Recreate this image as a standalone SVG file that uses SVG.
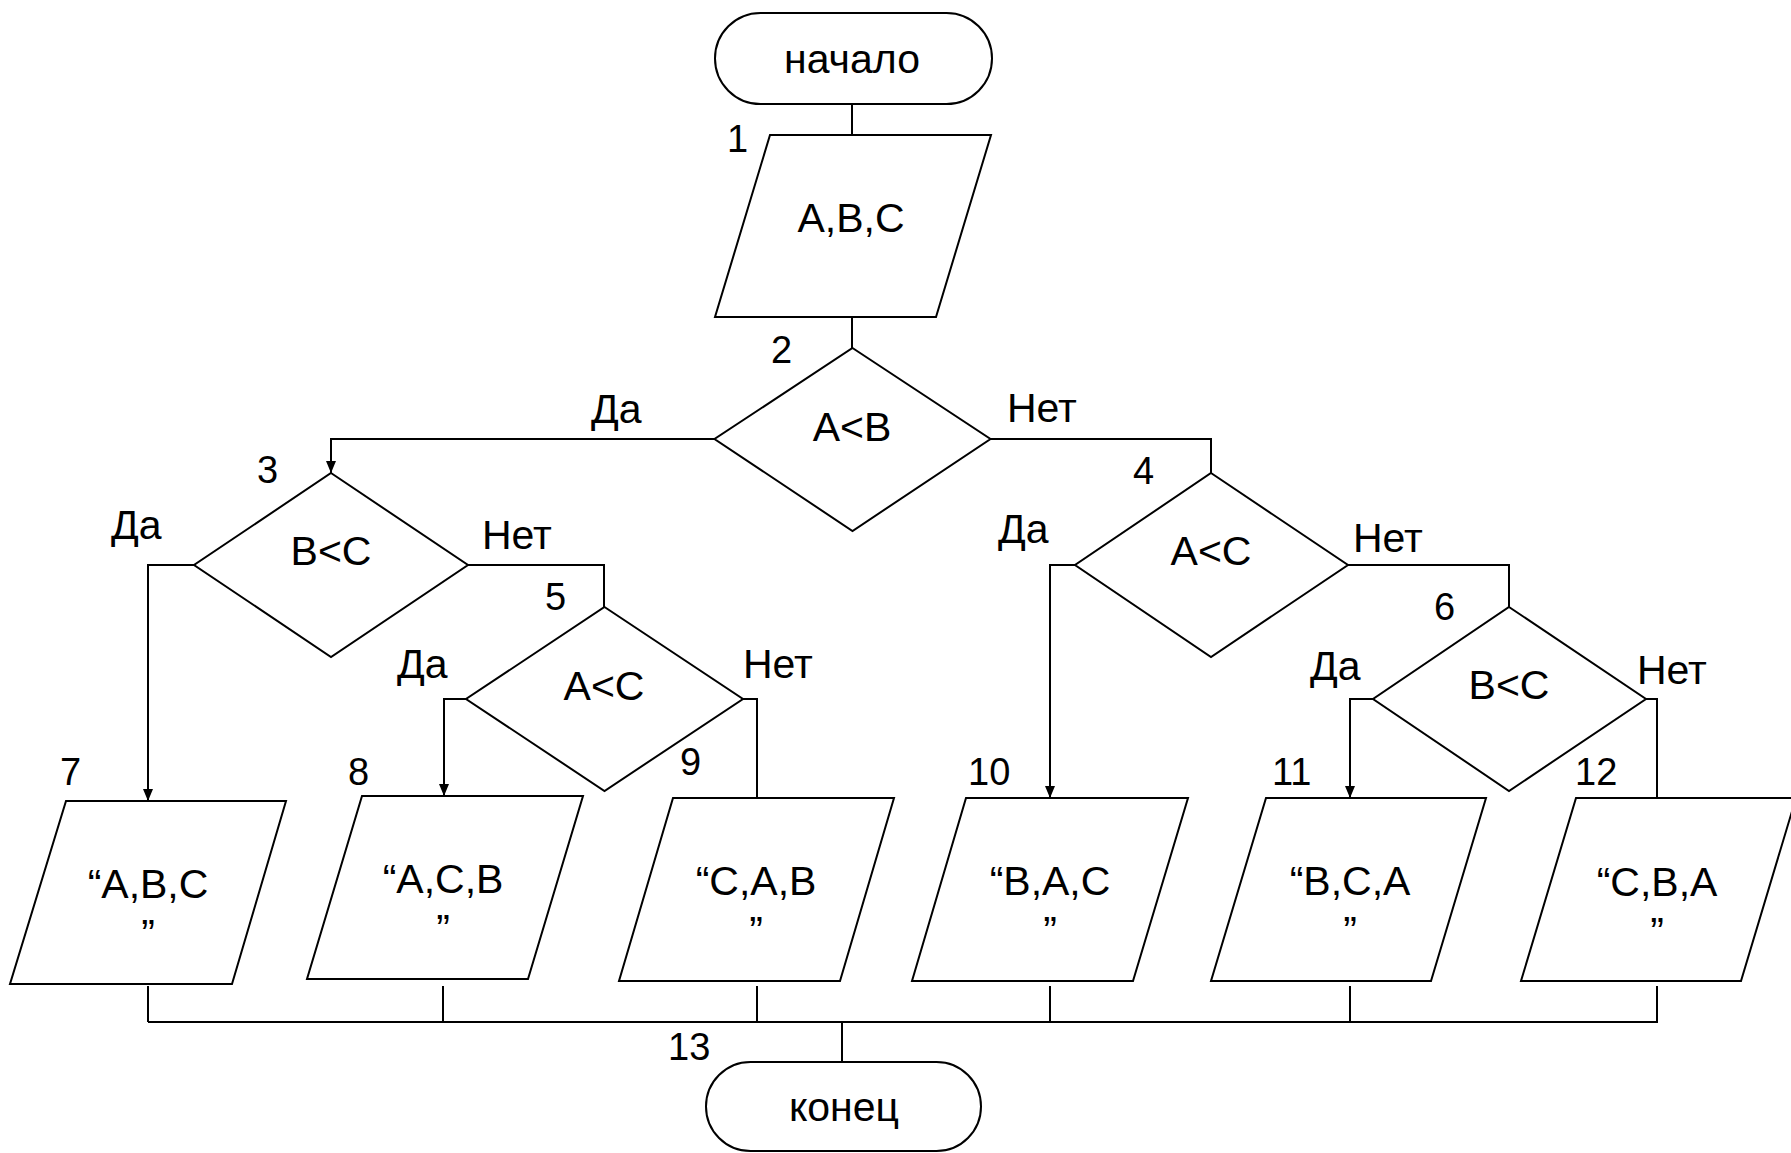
<svg xmlns="http://www.w3.org/2000/svg" width="1791" height="1153" viewBox="0 0 1791 1153">
  <defs>
    <marker id="arrow" viewBox="0 0 12 10" refX="12" refY="5" markerWidth="12" markerHeight="10" markerUnits="userSpaceOnUse" orient="auto">
      <path d="M0,0 L12,5 L0,10 Z" fill="#000"/>
    </marker>
    <style>
      .shape { fill: #fff; stroke: #000; stroke-width: 2; }
      .line { fill: none; stroke: #000; stroke-width: 2; }
      .txt { font-family: "Liberation Sans", Arial, sans-serif; font-size: 41px; fill: #000; }
      .mid { text-anchor: middle; }
      .num { font-family: "Liberation Sans", Arial, sans-serif; font-size: 38px; fill: #000; }
      .lbl { font-family: "Liberation Sans", Arial, sans-serif; font-size: 41px; fill: #000; }
    </style>
  </defs>
  <rect width="1791" height="1153" fill="#fff"/>

  <!-- connectors -->
  <g id="connectors">
    <path class="line" d="M852,104 V135"/>
    <path class="line" d="M852,317 V348"/>
    <!-- A<B : yes / no -->
    <path class="line" d="M715,439 H331 V473" marker-end="url(#arrow)"/>
    <path class="line" d="M990,439 H1211 V473"/>
    <!-- B<C : yes / no -->
    <path class="line" d="M194,565 H148 V801" marker-end="url(#arrow)"/>
    <path class="line" d="M468,565 H604 V607"/>
    <!-- A<C (left) : yes / no -->
    <path class="line" d="M466,699 H444 V796" marker-end="url(#arrow)"/>
    <path class="line" d="M743,699 H757 V798"/>
    <!-- A<C (right) : yes / no -->
    <path class="line" d="M1075,565 H1050 V798" marker-end="url(#arrow)"/>
    <path class="line" d="M1348,565 H1509 V607"/>
    <!-- B<C (right) : yes / no -->
    <path class="line" d="M1373,699 H1350 V798" marker-end="url(#arrow)"/>
    <path class="line" d="M1646,699 H1657 V798"/>
    <!-- outputs to the end -->
    <path class="line" d="M148,986 V1022 M443,986 V1022 M757,986 V1022 M1050,986 V1022 M1350,986 V1022 M1657,986 V1022"/>
    <path class="line" d="M148,1022 H1658"/>
    <path class="line" d="M842,1022 V1062"/>
  </g>

  <!-- start -->
  <g id="start">
    <rect class="shape" x="715" y="13" width="277" height="91" rx="45.5" ry="45.5"/>
    <text class="txt mid" x="852" y="73">начало</text>
  </g>

  <!-- 1: input -->
  <g id="n1">
    <polygon class="shape" points="770,135 991,135 936,317 715,317"/>
    <text class="txt mid" x="851" y="232">A,B,C</text>
    <text class="num" x="727" y="152">1</text>
  </g>

  <!-- 2: A<B -->
  <g id="n2">
    <polygon class="shape" points="852.5,348 990.5,439 852.5,531 714.5,439"/>
    <text class="txt mid" x="852" y="441">A&lt;B</text>
    <text class="num" x="771" y="363">2</text>
    <text class="lbl" x="591" y="423">Да</text>
    <text class="lbl" x="1007" y="422">Нет</text>
  </g>

  <!-- 3: B<C -->
  <g id="n3">
    <polygon class="shape" points="331,473 468,565 331,657 194,565"/>
    <text class="txt mid" x="331" y="565">B&lt;C</text>
    <text class="num" x="257" y="483">3</text>
    <text class="lbl" x="111" y="539">Да</text>
    <text class="lbl" x="482" y="549">Нет</text>
  </g>

  <!-- 4: A<C -->
  <g id="n4">
    <polygon class="shape" points="1211,473 1348,565 1211,657 1075,565"/>
    <text class="txt mid" x="1211" y="565">A&lt;C</text>
    <text class="num" x="1133" y="484">4</text>
    <text class="lbl" x="998" y="543">Да</text>
    <text class="lbl" x="1353" y="552">Нет</text>
  </g>

  <!-- 5: A<C -->
  <g id="n5">
    <polygon class="shape" points="604.5,607 743,699 604.5,791 466,699"/>
    <text class="txt mid" x="604" y="700">A&lt;C</text>
    <text class="num" x="545" y="610">5</text>
    <text class="lbl" x="397" y="678">Да</text>
    <text class="lbl" x="743" y="678">Нет</text>
  </g>

  <!-- 6: B<C -->
  <g id="n6">
    <polygon class="shape" points="1509,607 1646,699 1509,791 1373,699"/>
    <text class="txt mid" x="1509" y="699">B&lt;C</text>
    <text class="num" x="1434" y="620">6</text>
    <text class="lbl" x="1310" y="680">Да</text>
    <text class="lbl" x="1637" y="684">Нет</text>
  </g>

  <!-- 7..12: outputs -->
  <g id="n7">
    <polygon class="shape" points="66,801 286,801 232,984 10,984"/>
    <text class="txt mid" x="148" y="898">“A,B,C<tspan x="148" dy="50">”</tspan></text>
    <text class="num" x="60" y="785">7</text>
  </g>
  <g id="n8">
    <polygon class="shape" points="362,796 583,796 528,979 307,979"/>
    <text class="txt mid" x="443" y="893">“A,C,B<tspan x="443" dy="50">”</tspan></text>
    <text class="num" x="348" y="785">8</text>
  </g>
  <g id="n9">
    <polygon class="shape" points="673,798 894,798 840,981 619,981"/>
    <text class="txt mid" x="756" y="895">“C,A,B<tspan x="756" dy="50">”</tspan></text>
    <text class="num" x="680" y="775">9</text>
  </g>
  <g id="n10">
    <polygon class="shape" points="966,798 1188,798 1133,981 912,981"/>
    <text class="txt mid" x="1050" y="895">“B,A,C<tspan x="1050" dy="50">”</tspan></text>
    <text class="num" x="968" y="785">10</text>
  </g>
  <g id="n11">
    <polygon class="shape" points="1266,798 1486,798 1431,981 1211,981"/>
    <text class="txt mid" x="1350" y="895">“B,C,A<tspan x="1350" dy="50">”</tspan></text>
    <text class="num" x="1272" y="785">11</text>
  </g>
  <g id="n12">
    <polygon class="shape" points="1576,798 1796,798 1741,981 1521,981"/>
    <text class="txt mid" x="1657" y="896">“C,B,A<tspan x="1657" dy="50">”</tspan></text>
    <text class="num" x="1575" y="785">12</text>
  </g>

  <!-- end -->
  <g id="end">
    <rect class="shape" x="706" y="1062" width="275" height="89" rx="44.5" ry="44.5"/>
    <text class="txt mid" x="844" y="1121">конец</text>
    <text class="num" x="668" y="1060">13</text>
  </g>
</svg>
